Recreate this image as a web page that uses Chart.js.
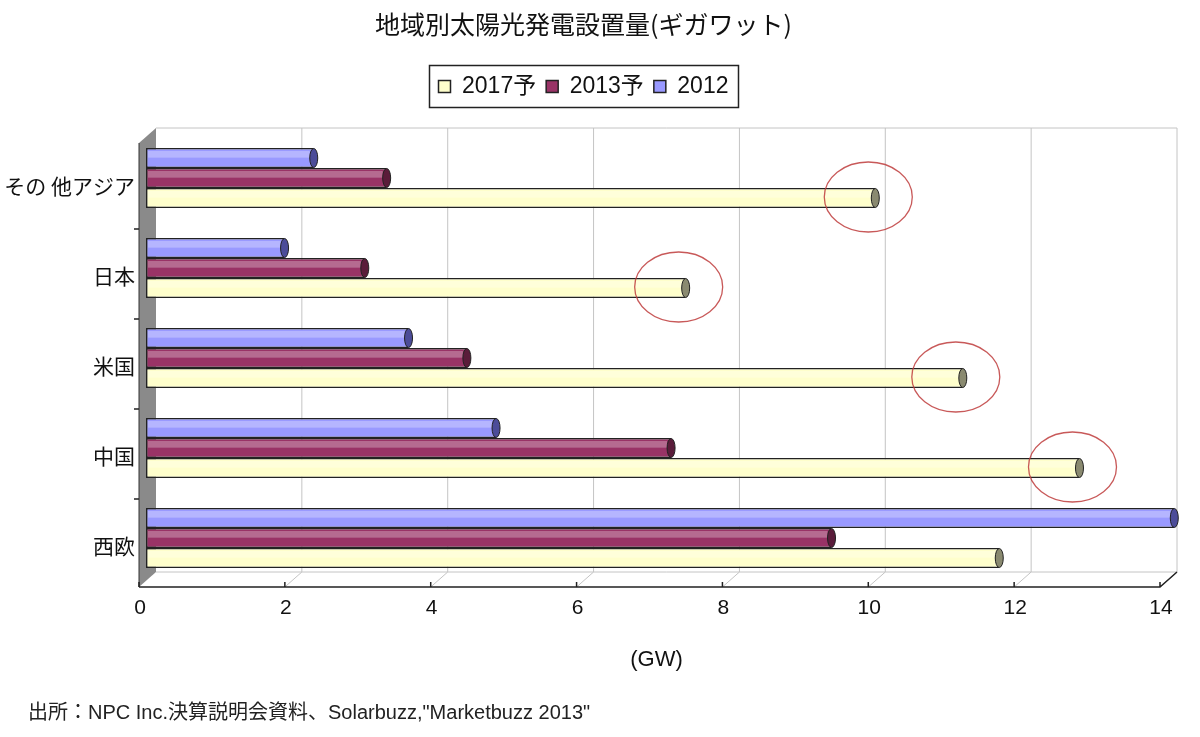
<!DOCTYPE html>
<html lang="ja">
<head>
<meta charset="utf-8">
<title>地域別太陽光発電設置量</title>
<script src="https://cdn.jsdelivr.net/npm/chart.js@4.4.1/dist/chart.umd.min.js"></script>
<style>
  html, body { margin: 0; padding: 0; background: #ffffff; }
  #wrap { position: relative; width: 1200px; height: 737px; }
  #source {
    position: absolute; left: 28px; top: 700px;
    font: 20px 'Liberation Sans', 'Noto Sans CJK JP', sans-serif;
    line-height: 24px; color: #222;
  }
</style>
</head>
<body>
<div id="wrap">
  <canvas id="solarChart"></canvas>
  <div id="source">出所：NPC Inc.決算説明会資料、Solarbuzz,"Marketbuzz 2013"</div>
</div>
<script>
const regions = ['その 他アジア', '日本', '米国', '中国', '西欧'];
const seriesNames = ['2012', '2013予', '2017予'];
const values2012 = [2.3, 1.9, 3.6, 4.8, 14.1];
const values2013 = [3.3, 3.0, 4.4, 7.2, 9.4];
const values2017 = [10.0, 7.4, 11.2, 12.8, 11.7];
const circledRegions = [0, 1, 2, 3];
const xMax = 14;
const xStep = 2;

const fillColors = ['#9999ff', '#993366', '#ffffcc'];
const capColors = ['#4c4c99', '#5a1c3a', '#8a8a70'];
const fontFamily = "'Liberation Sans', 'Noto Sans CJK JP', sans-serif";
const jpFamily = "'Noto Sans CJK JP', sans-serif";

// pseudo-3D frame: grey wall, back grid, floor, front axis
const framePlugin = {
  id: 'frame3d',
  beforeDatasetsDraw(chart) {
    const {ctx, chartArea: ca, scales: {x}} = chart;
    const fx = -7, bx = 10;
    const backTop = ca.top - 5, backBottom = ca.bottom - 11, frontBottom = ca.bottom + 4;
    const x0 = x.getPixelForValue(0), xEnd = x.getPixelForValue(xMax);
    ctx.save();

    ctx.strokeStyle = '#c4c4c4';
    ctx.lineWidth = 1;
    for (let v = xStep; v <= xMax; v += xStep) {
      const px = x.getPixelForValue(v);
      ctx.beginPath();
      ctx.moveTo(px + bx, backTop);
      ctx.lineTo(px + bx, backBottom);
      ctx.lineTo(px + fx, frontBottom);
      ctx.stroke();
    }
    ctx.beginPath();
    ctx.moveTo(x0 + bx, backTop);
    ctx.lineTo(xEnd + bx, backTop);
    ctx.moveTo(x0 + bx, backBottom);
    ctx.lineTo(xEnd + bx, backBottom);
    ctx.stroke();

    ctx.fillStyle = '#8a8a8a';
    ctx.strokeStyle = '#333';
    ctx.beginPath();
    ctx.moveTo(x0 + fx, ca.top + 10);
    ctx.lineTo(x0 + bx, backTop);
    ctx.lineTo(x0 + bx, backBottom);
    ctx.lineTo(x0 + fx, frontBottom);
    ctx.closePath();
    ctx.fill();
    ctx.beginPath();
    ctx.moveTo(x0 + fx, ca.top + 10);
    ctx.lineTo(x0 + fx, frontBottom);
    ctx.stroke();

    ctx.strokeStyle = '#222';
    ctx.lineWidth = 1.5;
    ctx.beginPath();
    ctx.moveTo(x0 + fx, frontBottom);
    ctx.lineTo(xEnd + fx, frontBottom);
    ctx.lineTo(xEnd + bx, backBottom);
    for (let v = 0; v <= xMax; v += xStep) {
      const px = x.getPixelForValue(v) + fx;
      ctx.moveTo(px, frontBottom);
      ctx.lineTo(px, frontBottom - 5);
    }
    const band = ca.height / regions.length;
    for (let i = 1; i < regions.length; i++) {
      const yb = ca.top + i * band + 6;
      ctx.moveTo(x0 + fx - 5, yb);
      ctx.lineTo(x0 + fx, yb);
    }
    ctx.stroke();
    ctx.restore();
  },
  afterDatasetsDraw(chart) {
    const {ctx} = chart;
    ctx.save();
    chart.data.datasets.forEach((ds, di) => {
      chart.getDatasetMeta(di).data.forEach(bar => {
        const h = bar.height;
        ctx.fillStyle = 'rgba(255,255,255,0.28)';
        ctx.fillRect(bar.base + 2, bar.y - h / 2 + 3, bar.x - bar.base - 6, h / 3);
        ctx.beginPath();
        ctx.ellipse(bar.x, bar.y, 4, h / 2 - 0.5, 0, 0, Math.PI * 2);
        ctx.fillStyle = capColors[di];
        ctx.fill();
        ctx.strokeStyle = '#222';
        ctx.lineWidth = 1;
        ctx.stroke();
      });
    });
    // red circles around the 2017 forecasts
    const meta2017 = chart.getDatasetMeta(2);
    ctx.strokeStyle = 'rgba(190, 60, 60, 0.85)';
    ctx.lineWidth = 1.3;
    circledRegions.forEach(i => {
      const bar = meta2017.data[i];
      ctx.beginPath();
      ctx.ellipse(bar.x - 7, bar.y - 1, 44, 35, 0, 0, Math.PI * 2);
      ctx.stroke();
    });
    ctx.restore();
  },
  afterDraw(chart) {
    const legend = chart.legend;
    if (!legend || !legend.legendHitBoxes.length) return;
    const boxes = legend.legendHitBoxes;
    const left = Math.min(...boxes.map(b => b.left)) - 9;
    const right = Math.max(...boxes.map(b => b.left + b.width)) + 10;
    const {ctx} = chart;
    ctx.save();
    ctx.strokeStyle = '#222';
    ctx.lineWidth = 1.5;
    ctx.strokeRect(left, legend.top + 0.5, right - left, legend.height - 1);
    ctx.restore();
  }
};

const ctx = document.getElementById('solarChart').getContext('2d');

new Chart(ctx, {
  type: 'bar',
  data: {
    labels: regions,
    datasets: [values2012, values2013, values2017].map((vals, i) => ({
      label: seriesNames[i],
      data: vals,
      xAxisID: 'x',
      backgroundColor: fillColors[i],
      borderColor: '#222',
      borderWidth: 1.5,
      borderSkipped: false,
      barPercentage: 1.0,
      categoryPercentage: 0.667,
      clip: false
    }))
  },
  options: {
    indexAxis: 'y',
    responsive: true,
    maintainAspectRatio: false,
    animation: false,
    layout: {
      padding: { left: 0, right: 33, top: 0, bottom: 0 }
    },
    plugins: {
      title: {
        display: true,
        text: '地域別太陽光発電設置量(ギガワット)',
        color: '#111',
        font: { family: jpFamily, size: 25, weight: 'normal' },
        padding: { top: 9, bottom: 26 }
      },
      legend: {
        display: true,
        position: 'top',
        reverse: true,
        labels: {
          color: '#111',
          font: { family: fontFamily, size: 23 },
          boxWidth: 12,
          boxHeight: 12,
          padding: 10
        }
      },
      tooltip: { enabled: false }
    },
    scales: {
      x: {
        type: 'linear',
        position: 'bottom',
        min: 0,
        max: xMax,
        ticks: {
          stepSize: xStep,
          color: '#111',
          labelOffset: -6,
          padding: 13,
          font: { family: fontFamily, size: 21 }
        },
        grid: { display: false, drawTicks: false },
        border: { display: false },
        title: {
          display: true,
          text: '(GW)',
          color: '#111',
          font: { family: fontFamily, size: 22 },
          padding: { top: 0, bottom: 64 }
        },
        afterFit(scale) {
          scale.height = 154;
        }
      },
      xTop: {
        type: 'linear',
        position: 'top',
        display: true,
        ticks: { display: false },
        grid: { display: false },
        border: { display: false },
        afterFit(scale) {
          scale.height = 25;
        }
      },
      y: {
        ticks: {
          color: '#111',
          padding: 11,
          labelOffset: 8,
          font: { family: jpFamily, size: 21 }
        },
        grid: { display: false, drawTicks: false },
        border: { display: false },
        afterFit(scale) {
          scale.width = 146;
        }
      }
    }
  },
  plugins: [framePlugin]
});
</script>
</body>
</html>
